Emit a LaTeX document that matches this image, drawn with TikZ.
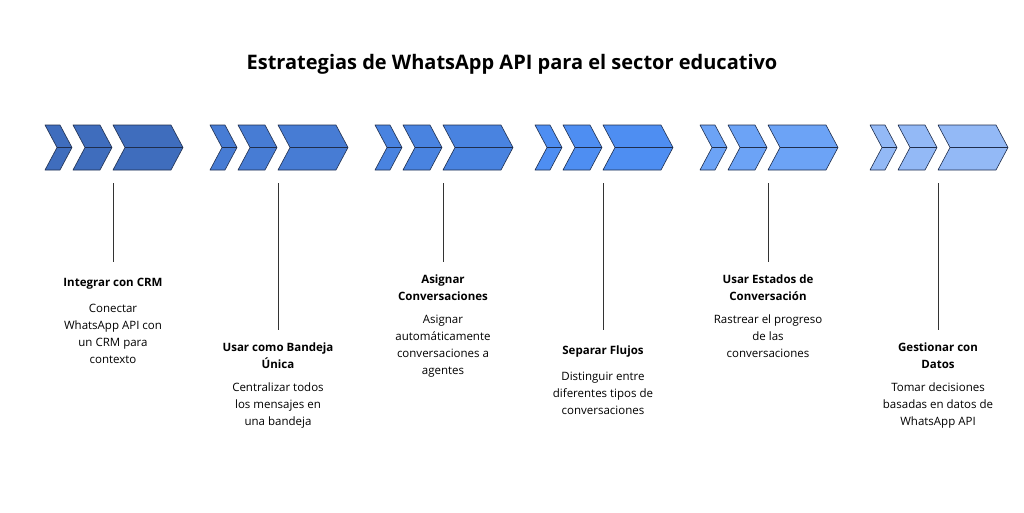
\documentclass[tikz,border=0pt]{standalone}
\usepackage{fontspec}
\setmainfont{Open Sans}
\usetikzlibrary{positioning}
\definecolor{edge}{HTML}{1F2E4D}
\definecolor{cA}{HTML}{3F6DBD}
\definecolor{cB}{HTML}{477CD4}
\definecolor{cC}{HTML}{4983E0}
\definecolor{cD}{HTML}{4E8EF2}
\definecolor{cE}{HTML}{6CA3F6}
\definecolor{cF}{HTML}{93B9F6}
\def\chev#1#2#3{% color, left x, right x
  \fill[#1] (#2,125) -- (#3-12,125) -- (#3,147.5) -- (#3-12,170) -- (#2,170) -- (#2+12,147.5) -- cycle;
  \draw[edge,line width=0.6pt,line join=round] (#2,125) -- (#3-12,125) -- (#3,147.5) -- (#3-12,170) -- (#2,170) -- (#2+12,147.5) -- cycle;
  \draw[edge,line width=0.6pt] (#2+12,147.5) -- (#3,147.5);}
\tikzset{
  head/.style={font=\bfseries\fontsize{11.5}{16.5}\selectfont, align=center, inner sep=0pt, anchor=north},
  desc/.style={font=\fontsize{11.5}{17}\selectfont, align=center, inner sep=0pt, below=14pt of #1},
  stem/.style={line width=0.7pt, black!80}
}
\begin{document}
\begin{tikzpicture}[x=1pt,y=-1pt]
\useasboundingbox (0,0) rectangle (1024,512);
\node[font=\fontsize{20}{24}\selectfont\bfseries] (title) at (512,64) {Estrategias de WhatsApp API para el sector educativo};

% chevron groups
\foreach \x/\c in {45/cA,210/cB,375/cC,535/cD,700/cE,870/cF}{
  \chev{\c}{\x}{\x+27}
  \chev{\c}{\x+28}{\x+67}
  \chev{\c}{\x+68}{\x+138}
}

% stems
\foreach \n/\x/\y in {a/113/262,b/278/330,c/443/262,d/603/330,e/768/262,f/938/330}{
  \coordinate (top\n) at (\x,183);
  \coordinate (bot\n) at (\x,\y);
  \draw[stem] (top\n) -- (bot\n);
}

% labels
\node[head] (ha) at (113,278) {Integrar con CRM};
\node[desc=ha] (da) {Conectar\\WhatsApp API con\\un CRM para\\contexto};
\node[head] (hb) at (278,343) {Usar como Bandeja\\Única};
\node[desc=hb] (db) {Centralizar todos\\los mensajes en\\una bandeja};
\node[head] (hc) at (443,275) {Asignar\\Conversaciones};
\node[desc=hc] (dc) {Asignar\\automáticamente\\conversaciones a\\agentes};
\node[head] (hd) at (603,346) {Separar Flujos};
\node[desc=hd] (dd) {Distinguir entre\\diferentes tipos de\\conversaciones};
\node[head] (he) at (768,275) {Usar Estados de\\Conversación};
\node[desc=he] (de) {Rastrear el progreso\\de las\\conversaciones};
\node[head] (hf) at (938,343) {Gestionar con\\Datos};
\node[desc=hf] (df) {Tomar decisiones\\basadas en datos de\\WhatsApp API};
\end{tikzpicture}
\end{document}
